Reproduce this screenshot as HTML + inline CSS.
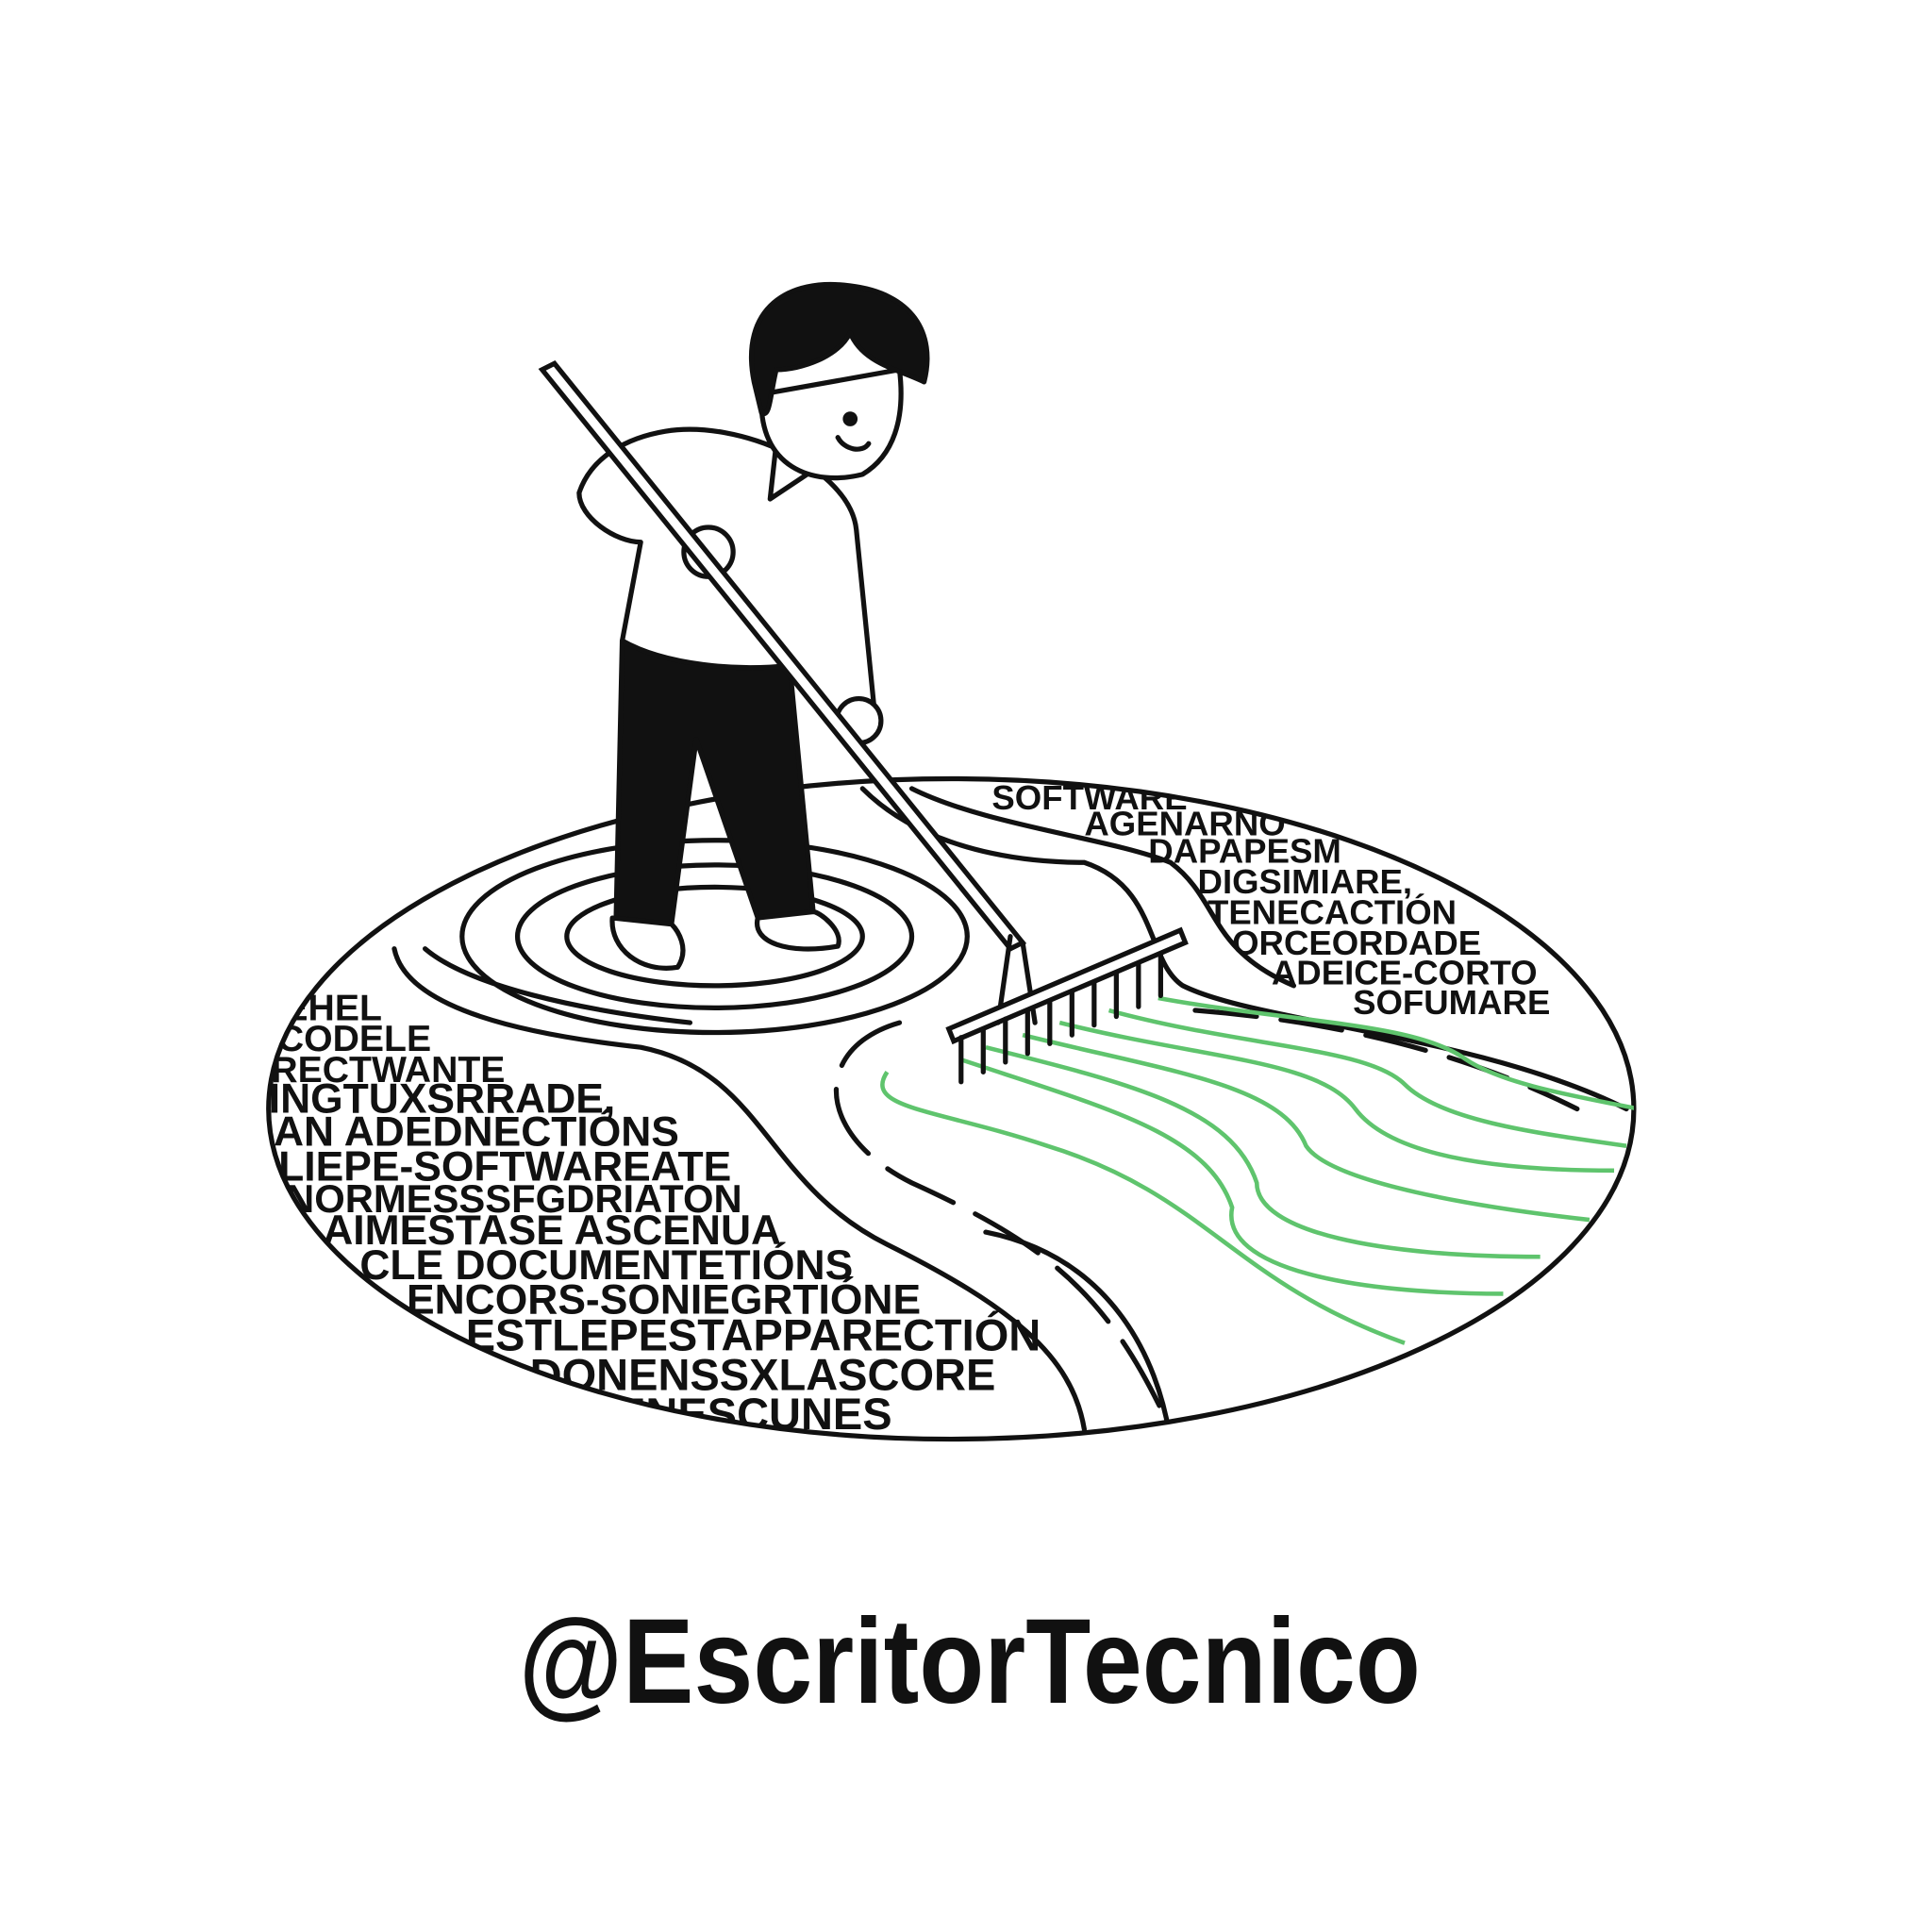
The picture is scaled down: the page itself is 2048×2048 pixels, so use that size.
<!DOCTYPE html>
<html><head><meta charset="utf-8"><style>
html,body{margin:0;padding:0;background:#fff}
svg{display:block}
text{font-family:"Liberation Sans",sans-serif;font-weight:bold}
</style></head><body>
<svg width="2048" height="2048" viewBox="0 0 1568 1568" xmlns="http://www.w3.org/2000/svg">
<defs><clipPath id="ell"><ellipse cx="772" cy="900" rx="554" ry="268"/></clipPath></defs>
<rect width="1568" height="1568" fill="#fff"/>
<g fill="none" stroke="#111" stroke-width="4" stroke-linecap="round">
<ellipse cx="772" cy="900" rx="554" ry="268"/>
<g clip-path="url(#ell)">
<ellipse cx="580" cy="760" rx="120" ry="40"/>
<ellipse cx="580" cy="760" rx="160" ry="58"/>
<ellipse cx="580" cy="760" rx="205" ry="78"/>
<path d="M320 770 C330 820 430 840 520 850 C620 870 620 960 720 1010 C820 1060 870 1100 880 1160"/>
<path d="M345 770 C380 800 470 820 560 830"/>
<path d="M700 640 C760 700 860 700 880 700 C940 720 930 780 960 800 C1020 830 1200 840 1320 900"/>
<path d="M740 640 C800 670 900 680 950 700 C990 730 980 770 1050 800"/>
<path d="M730 830 C660 850 660 920 740 960 C850 1010 900 1050 950 1160" stroke-dasharray="60 20"/>
<path d="M970 820 C1100 830 1200 860 1280 900" stroke-dasharray="50 20"/>
<path d="M800 1000 C900 1020 940 1100 950 1170"/>
</g></g>
<g fill="none" stroke="#5fc46d" stroke-width="3.5" clip-path="url(#ell)">
<path d="M720 870 C700 900 760 900 850 930 C980 970 1000 1040 1140 1090"/>
<path d="M780 860 C900 900 980 920 1000 980 C990 1030 1100 1050 1220 1050"/>
<path d="M800 850 C920 880 1000 900 1020 960 C1020 1000 1120 1020 1250 1020"/>
<path d="M830 840 C950 870 1040 880 1060 930 C1080 960 1200 980 1290 990"/>
<path d="M860 830 C980 860 1070 860 1100 900 C1130 940 1220 950 1310 950"/>
<path d="M900 820 C1010 850 1110 850 1140 880 C1170 910 1250 920 1320 930"/>
<path d="M940 810 C1050 830 1150 830 1190 860 C1220 880 1280 890 1330 900"/>
</g>
<g fill="#111" clip-path="url(#ell)" font-size="30">
<text x="230" y="828">EHEL</text>
<text x="225" y="853">CODELE</text>
<text x="220" y="878">RECTWANTE</text>
<text x="218" y="903" font-size="34">INGTUXSRRADE,</text>
<text x="222" y="930" font-size="34">AN ADEDNECTIÓNS</text>
<text x="226" y="958" font-size="34">LIEPE-SOFTWAREATE</text>
<text x="232" y="984" font-size="32">NORMESSSFGDRIATON</text>
<text x="262" y="1010" font-size="34">AIMESTASE ASCENUA</text>
<text x="292" y="1038" font-size="34">CLE DOCUMENTETIÓNS</text>
<text x="330" y="1066" font-size="34">ENCORS-SONIEGRTIÓNE</text>
<text x="378" y="1096" font-size="36">ESTLEPESTAPPARECTIÓN</text>
<text x="430" y="1128" font-size="36">DONENSSXLASCORE</text>
<text x="500" y="1160" font-size="36">ENESCUNES</text>
</g>
<g fill="#111" clip-path="url(#ell)" font-size="28">
<text x="805" y="657">SOFTWARE</text>
<text x="880" y="678">AGENARNO</text>
<text x="932" y="700">DAPAPESM</text>
<text x="972" y="725">DIGSIMIARE,</text>
<text x="980" y="750">TENECACTIÓN</text>
<text x="1000" y="775">ORCEORDADE</text>
<text x="1032" y="799">ADEICE-CORTO</text>
<text x="1098" y="823">SOFUMARE</text>
</g>
<g stroke="#111" stroke-width="4" stroke-linejoin="round" stroke-linecap="round">
<path d="M505 520 L500 745 L545 750 L565 600 L615 745 L660 740 L640 530 Z" fill="#111"/>
<path d="M497 745 C495 770 520 790 550 785 C560 770 550 755 545 750 Z" fill="#fff"/>
<path d="M615 745 C610 765 640 775 680 768 C685 755 665 740 660 740 Z" fill="#fff"/>
<path d="M540 350 C600 340 690 380 695 430 L710 580 L680 585 L640 540 C600 545 540 540 505 520 L520 440 C500 440 470 420 470 400 C480 370 510 355 540 350 Z" fill="#fff"/>
<path d="M630 360 L625 405 L655 385" fill="#fff"/>
<circle cx="575" cy="448" r="20" fill="#fff"/>
<circle cx="697" cy="585" r="18" fill="#fff"/>
<path d="M618 320 C615 380 660 395 700 385 C725 370 735 340 730 300 Z" fill="#fff"/>
<path d="M612 310 C600 250 640 225 690 232 C740 238 760 270 750 310 C730 300 700 295 690 270 C680 290 650 300 630 300 C625 320 625 340 618 335 Z" fill="#111"/>
<circle cx="690" cy="340" r="4" fill="#111"/>
<path d="M680 355 C685 365 700 368 705 360" fill="none"/>
</g>
<g stroke="#111" stroke-width="4" fill="#fff" stroke-linecap="round">
<path d="M440 300 L450 295 L830 765 L820 770 Z"/>
<line x1="820" y1="760" x2="810" y2="830"/>
<line x1="830" y1="765" x2="840" y2="830"/>
<path d="M770 835 L958 755 L962 765 L774 845 Z"/>
<g fill="none">
<line x1="780" y1="842" x2="780" y2="878"/><line x1="798" y1="835" x2="798" y2="870"/>
<line x1="816" y1="827" x2="816" y2="862"/><line x1="834" y1="820" x2="834" y2="855"/>
<line x1="852" y1="812" x2="852" y2="847"/><line x1="870" y1="805" x2="870" y2="840"/>
<line x1="888" y1="797" x2="888" y2="832"/><line x1="906" y1="790" x2="906" y2="825"/>
<line x1="924" y1="782" x2="924" y2="817"/><line x1="942" y1="775" x2="942" y2="808"/>
</g></g>
<text x="787" y="1382" text-anchor="middle" font-size="98" textLength="732" lengthAdjust="spacingAndGlyphs" fill="#111">@EscritorTecnico</text>
</svg>
</body></html>
